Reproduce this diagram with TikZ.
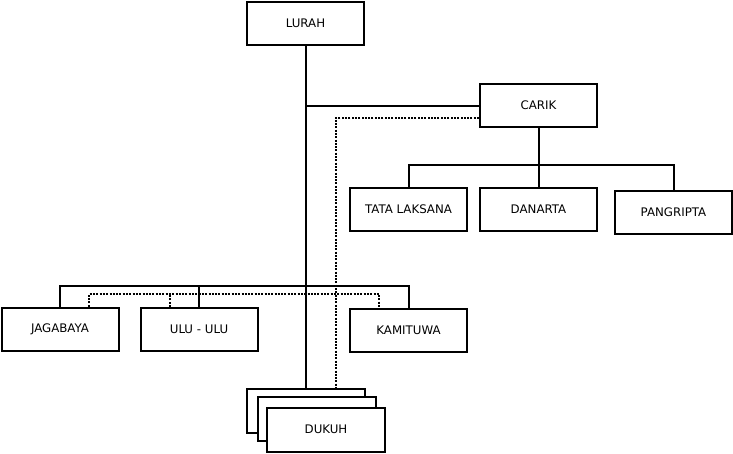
\documentclass[tikz,border=0pt]{standalone}
\usepackage{fontspec}
\setmainfont{DejaVu Sans}
\usetikzlibrary{calc}
\begin{document}
\begin{tikzpicture}[x=1pt,y=-1pt,
  box/.style={draw,line width=2pt,fill=white,minimum width=117pt,minimum height=43pt,inner sep=0pt,font=\fontsize{11.8}{14}\selectfont},
  conn/.style={line width=2pt},
  dots/.style={line width=2pt,dash pattern=on 2pt off 1.3pt}]
\useasboundingbox (0,0) rectangle (733,453);
\node[box] (lurah) at (305.5,23.5) {LURAH};
\node[box] (carik) at (538.5,105.5) {CARIK};
\node[box] (tata) at (408.5,209) {TATA LAKSANA};
\node[box] (danarta) at (538.5,209) {DANARTA};
\node[box] (pangripta) at (673.5,212) {PANGRIPTA};
\node[box] (jagabaya) at (60,329) {JAGABAYA};
\node[box] (ulu) at (199,329.5) {ULU - ULU};
\node[box] (kamituwa) at (408.5,330.5) {KAMITUWA};
\node[box,minimum width=118pt,minimum height=44pt] (dukuh1) at (306,411) {};
\node[box,minimum width=118pt,minimum height=44pt] (dukuh2) at (316.5,418.5) {};
\node[box,minimum width=118pt,minimum height=44pt] (dukuh3) at (326,429.5) {DUKUH};
% main vertical
\draw[conn] (lurah.south) -- (lurah.south |- dukuh1.north);
\draw[conn] (carik.west) -- (carik.west -| lurah.south);
% dotted line carik to dukuh
\coordinate (dc) at ($(carik.west)+(0,12.5)$);
\coordinate (dd) at ($(dukuh1.north)+(29.5,0)$);
\draw[dots] (dc) -- (dc -| dd) -- (dd);
% carik subtree
\coordinate (cj) at (538.5,165);
\draw[conn] (carik.south) -- (cj);
\draw[conn] (tata.north) |- (cj) -| (pangripta.north);
\draw[conn] (cj) -- (danarta.north);
% row 2
\coordinate (rj) at (305.5,286);
\draw[conn] (jagabaya.north) |- (rj) -| (kamituwa.north);
\draw[conn] (ulu.north) -- (ulu.north |- rj);
% dotted row 2
\coordinate (ja) at ($(jagabaya.north)+(29,0)$);
\coordinate (ub) at ($(ulu.north)+(-29,0)$);
\coordinate (kb) at ($(kamituwa.north)+(-29.5,0)$);
\coordinate (dr) at (0,294);
\draw[dots] (ja) -- (ja |- dr) -- (kb |- dr) -- (kb);
\draw[dots] (ub) -- (ub |- dr);
\end{tikzpicture}
\end{document}
